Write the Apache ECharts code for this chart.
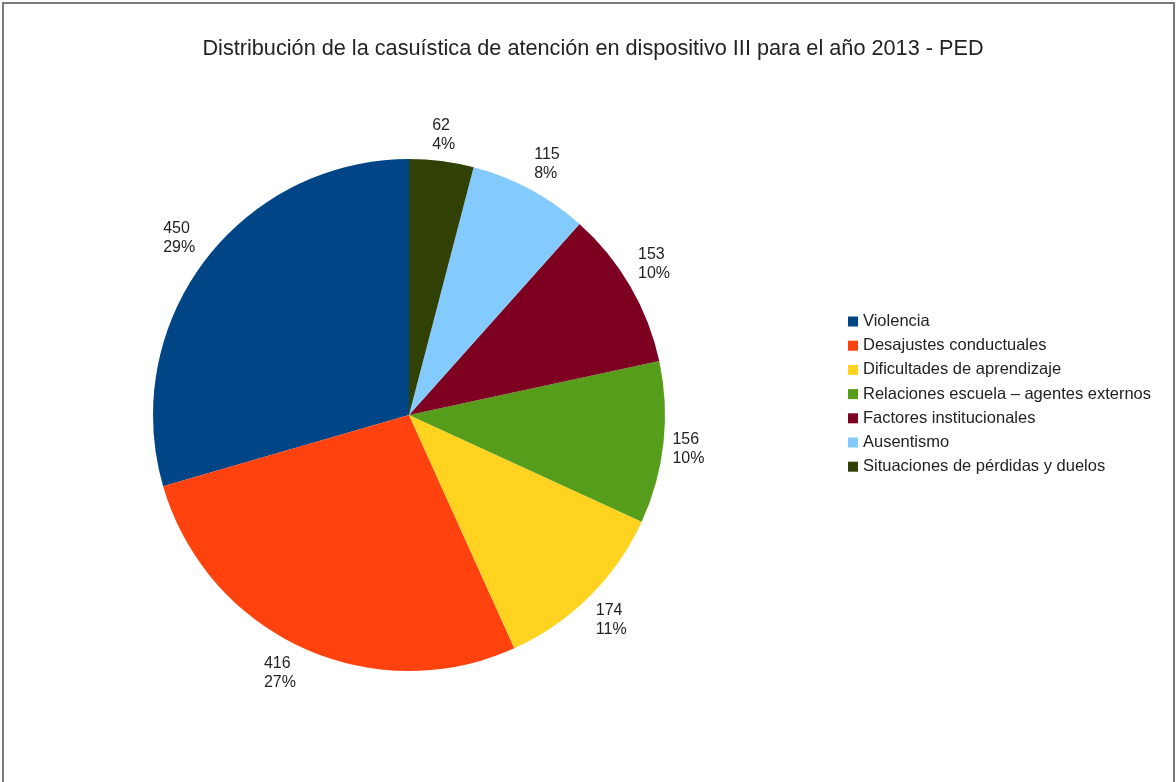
<!DOCTYPE html>
<html>
<head>
<meta charset="utf-8">
<script src="https://cdn.jsdelivr.net/npm/echarts@6/dist/echarts.min.js"></script>
<style>
  html, body { margin: 0; padding: 0; background: #fff; }
  #chart { width: 1176px; height: 782px; }
</style>
</head>
<body>
<div id="chart"></div>
<script>
const categories = [
  "Violencia",
  "Desajustes conductuales",
  "Dificultades de aprendizaje",
  "Relaciones escuela – agentes externos",
  "Factores institucionales",
  "Ausentismo",
  "Situaciones de pérdidas y duelos"
];
const values = [450, 416, 174, 156, 153, 115, 62];
const colors = ["#004586", "#ff420e", "#ffd320", "#579d1c", "#7e0021", "#83caff", "#314004"];

const total = values.reduce((a, b) => a + b, 0);
const FONT = "'Liberation Sans', Arial, sans-serif";
const START_ANGLE = 90;

// mid angle (deg, counterclockwise) of each slice, used to nudge labels
// so the box corner sits against the pie like in the office chart
const midAngle = (idx) => {
  let before = 0;
  for (let i = 0; i < idx; i++) before += values[i];
  return START_ANGLE + ((before + values[idx] / 2) / total) * 360;
};
const clamp = (v) => Math.max(-1, Math.min(1, v));

const chart = echarts.init(document.getElementById("chart"));
chart.setOption({
  animation: false,
  color: colors,
  title: {
    text: "Distribución de la casuística de atención en dispositivo III para el año 2013 - PED",
    left: 588,
    textAlign: "center",
    top: 33,
    textStyle: { fontFamily: FONT, fontSize: 21.7, fontWeight: "normal", color: "#222" }
  },
  graphic: [
    {
      type: "rect",
      shape: { x: 3, y: 3, width: 1171, height: 800 },
      style: { fill: "none", stroke: "#7a7a7a", lineWidth: 2 },
      silent: true
    }
  ],
  legend: {
    orient: "vertical",
    left: 843,
    top: 308,
    itemWidth: 10,
    itemHeight: 10,
    itemGap: 7.2,
    icon: "rect",
    textStyle: { fontFamily: FONT, fontSize: 16.5, color: "#222" },
    data: categories
  },
  series: [
    {
      type: "pie",
      center: [409, 415],
      radius: [0, 256],
      startAngle: START_ANGLE,
      clockwise: false,
      avoidLabelOverlap: false,
      itemStyle: { borderWidth: 0 },
      label: {
        position: "outside",
        distanceToLabelLine: 0,
        color: "#222",
        formatter: (p) => "{a|" + p.value + "}\n{a|" + Math.round(p.value / total * 100) + "%}",
        rich: {
          a: { fontFamily: FONT, fontSize: 16, lineHeight: 19, color: "#222", width: 34, align: "left" }
        }
      },
      labelLine: { show: false, length: 9, length2: 0 },
      labelLayout: (params) => {
        const a = (midAngle(params.dataIndex) * Math.PI) / 180;
        const c = Math.cos(a);
        const s = Math.sin(a);
        const sx = clamp(3 * c);
        const sy = clamp(3 * s);
        const w = params.labelRect.width;
        const h = params.labelRect.height;
        return {
          dx: -Math.sign(c) * (w / 2) * (1 - Math.abs(sx)),
          dy: -(h / 2) * sy
        };
      },
      emphasis: { disabled: true },
      data: categories.map((name, i) => ({ name, value: values[i] }))
    }
  ]
});
</script>
</body>
</html>
